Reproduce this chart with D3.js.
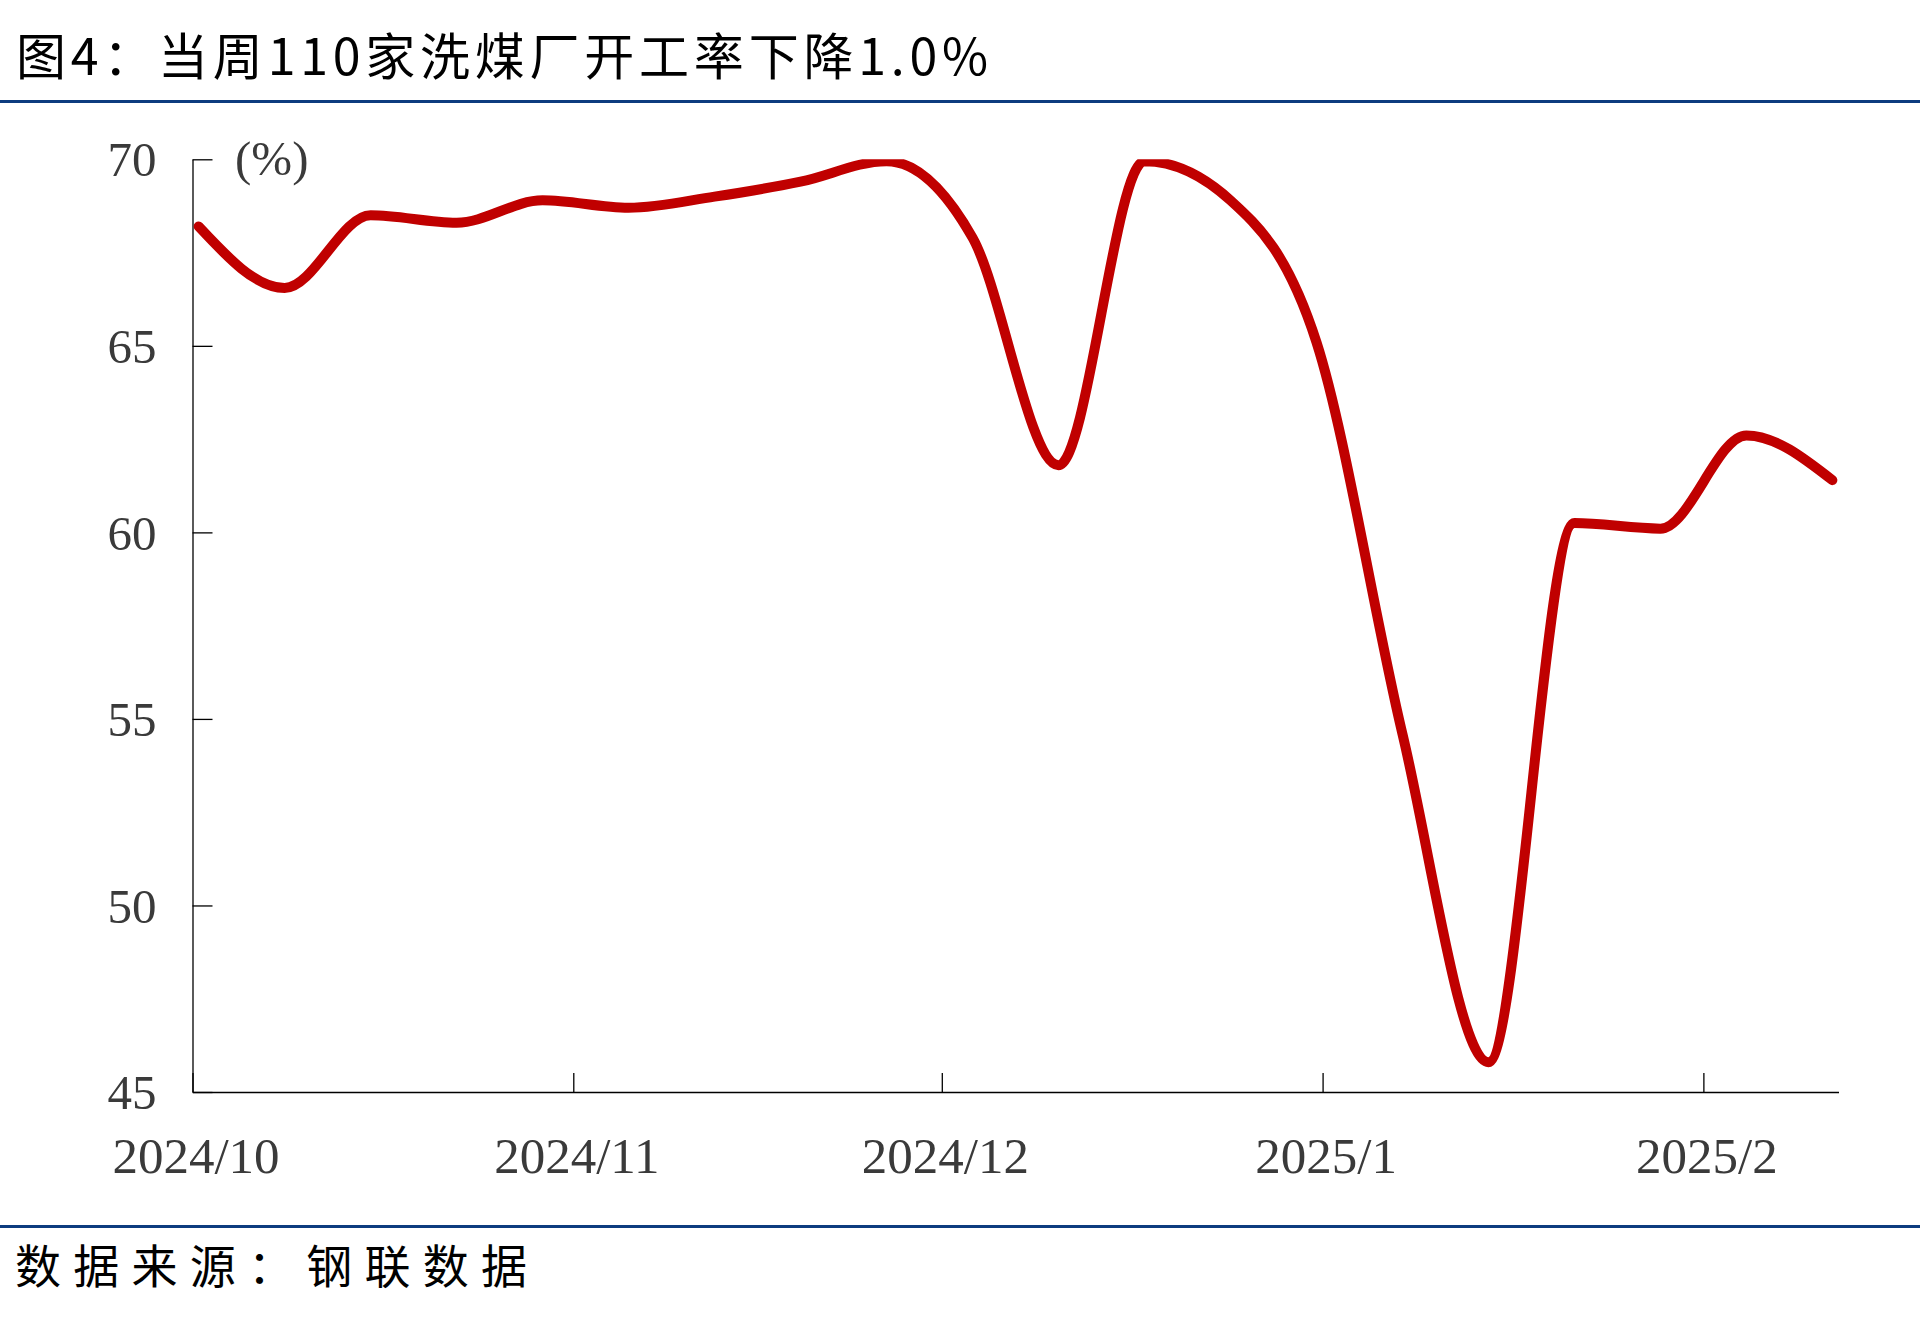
<!DOCTYPE html>
<html>
<head>
<meta charset="utf-8">
<script src="https://cdn.jsdelivr.net/npm/d3@7"></script>
<style>
  html, body { margin: 0; padding: 0; background: #ffffff; }
  svg { display: block; }
</style>
</head>
<body>
<script>
// ---- Data ----
const titleText = "图4：当周110家洗煤厂开工率下降1.0%";
const sourceText = "数据来源：钢联数据";
const unitLabel = "(%)";

// weekly observation dates
const dates = [
  "2024-10-01","2024-10-08","2024-10-15","2024-10-22","2024-10-29",
  "2024-11-05","2024-11-12","2024-11-19","2024-11-26","2024-12-03",
  "2024-12-10","2024-12-17","2024-12-24","2024-12-31","2025-01-07",
  "2025-01-14","2025-01-21","2025-01-28","2025-02-04","2025-02-11"
];
// operating rate of 110 coal washing plants (%)
const values = [
  68.2, 66.55, 68.5, 68.3, 68.9,
  68.7, 69.0, 69.4, 69.95, 67.9,
  61.8, 69.95, 68.9, 65.1, 54.6,
  45.8, 60.25, 60.1, 62.6, 61.4
];

const yTicks = [45, 50, 55, 60, 65, 70];
const xTickDates = ["2024-10-01","2024-11-01","2024-12-01","2025-01-01","2025-02-01"];
const xTickLabels = ["2024/10","2024/11","2024/12","2025/1","2025/2"];
const xDomain = ["2024-10-01","2025-02-12"];
const yDomain = [45, 70];

// ---- Layout ----
const W = 1920, H = 1331;
const plot = { left: 192.5, right: 1838.5, top: 159.3, bottom: 1092 };
const labelFont = "'Liberation Serif','Times New Roman',serif";
const cjkFont = "'Noto Sans CJK SC','Noto Sans CJK JP',sans-serif";
const textGray = "#3a3a3a";
const lineRed = "#c00000";
const ruleBlue = "#0d3c7f";

const parse = d3.timeParse("%Y-%m-%d");
const data = dates.map((d, i) => ({ date: parse(d), value: values[i] }));

const svg = d3.select("body").append("svg")
  .attr("width", W).attr("height", H)
  .attr("viewBox", `0 0 ${W} ${H}`);

svg.append("rect").attr("width", W).attr("height", H).attr("fill", "#ffffff");

// Title
svg.append("text")
  .attr("x", 16).attr("y", 75)
  .attr("font-family", cjkFont)
  .attr("font-size", 50)
  .attr("fill", "#000")
  .attr("textLength", 972)
  .attr("lengthAdjust", "spacing")
  .text(titleText);

// Blue rules
svg.append("line")
  .attr("x1", 0).attr("x2", W).attr("y1", 101.5).attr("y2", 101.5)
  .attr("stroke", ruleBlue).attr("stroke-width", 3);
svg.append("line")
  .attr("x1", 0).attr("x2", W).attr("y1", 1226.5).attr("y2", 1226.5)
  .attr("stroke", ruleBlue).attr("stroke-width", 3);

// Source
svg.append("text")
  .attr("x", 15).attr("y", 1283)
  .attr("font-family", cjkFont)
  .attr("font-size", 46)
  .attr("fill", "#000")
  .attr("textLength", 512)
  .attr("lengthAdjust", "spacing")
  .text(sourceText);

// Scales
const x = d3.scaleTime()
  .domain(xDomain.map(parse))
  .range([plot.left, plot.right]);
const y = d3.scaleLinear()
  .domain(yDomain)
  .range([plot.bottom, plot.top]);

// Y axis (ticks pointing inward)
const yAxis = svg.append("g")
  .attr("transform", `translate(${plot.left},0)`)
  .call(d3.axisLeft(y).tickValues(yTicks).tickFormat(d3.format("d"))
    .tickSize(-20).tickSizeOuter(0).tickPadding(36));
yAxis.select(".domain").attr("stroke", "#000").attr("stroke-width", 1.3);
yAxis.selectAll(".tick line").attr("stroke", "#000").attr("stroke-width", 1.3);
yAxis.selectAll(".tick text")
  .attr("font-family", labelFont).attr("font-size", 49)
  .attr("fill", textGray).attr("dy", "0.34em");

// X axis (ticks pointing upward)
const xAxis = svg.append("g")
  .attr("transform", `translate(0,${plot.bottom})`)
  .call(d3.axisBottom(x).tickValues(xTickDates.map(parse))
    .tickFormat((d, i) => xTickLabels[i])
    .tickSize(-19).tickSizeOuter(0).tickPadding(0));
xAxis.select(".domain").attr("stroke", "#000").attr("stroke-width", 1.3);
xAxis.selectAll(".tick line").attr("stroke", "#000").attr("stroke-width", 1.3);
xAxis.selectAll(".tick text")
  .attr("font-family", labelFont).attr("font-size", 51)
  .attr("fill", textGray)
  .attr("dx", 3)
  .attr("y", 81).attr("dy", 0);

// Unit label
svg.append("text")
  .attr("x", 235).attr("y", y(70) + 16)
  .attr("font-family", labelFont).attr("font-size", 49)
  .attr("fill", textGray)
  .text(unitLabel);

// Clip to the plot area
svg.append("clipPath").attr("id", "plotClip")
  .append("rect")
  .attr("x", plot.left).attr("y", plot.top)
  .attr("width", plot.right - plot.left).attr("height", plot.bottom - plot.top);

// Line (points placed mid-day, as on a date axis)
const line = d3.line()
  .x(d => x(d3.timeHour.offset(d.date, 12)))
  .y(d => y(d.value))
  .curve(d3.curveMonotoneX);

svg.append("path")
  .datum(data)
  .attr("clip-path", "url(#plotClip)")
  .attr("fill", "none")
  .attr("stroke", lineRed)
  .attr("stroke-width", 10)
  .attr("stroke-linecap", "round")
  .attr("stroke-linejoin", "round")
  .attr("d", line);
</script>
</body>
</html>
